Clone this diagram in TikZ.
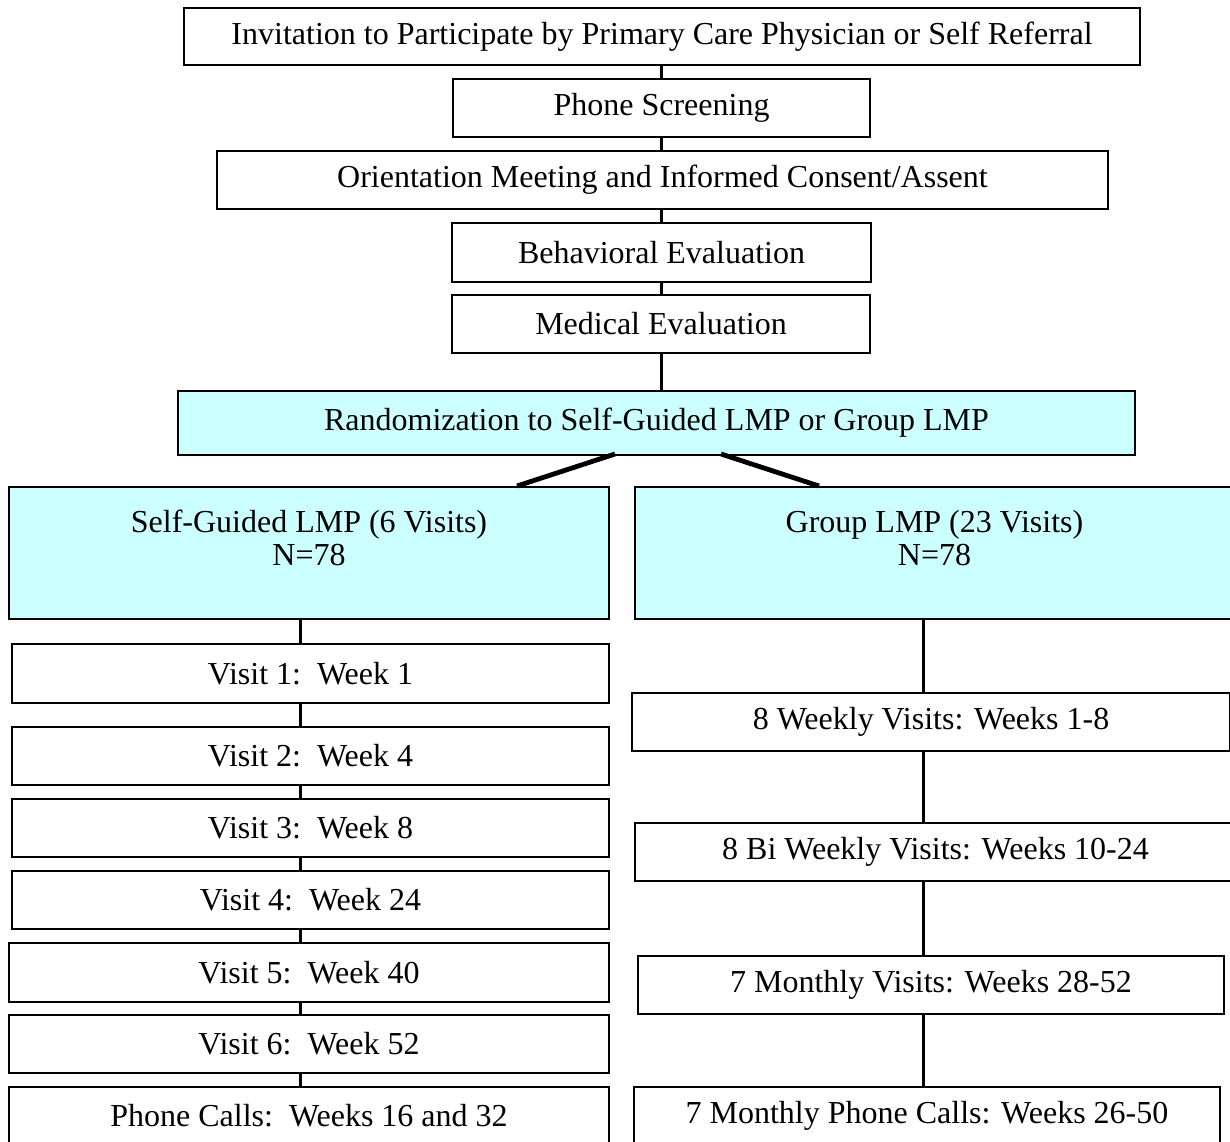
\documentclass[tikz,border=0pt]{standalone}
\usepackage{fontspec}
\setmainfont{Liberation Serif}
\usetikzlibrary{calc}
\definecolor{lcyan}{HTML}{CCFFFF}
\begin{document}
\begin{tikzpicture}[x=0.5pt,y=-0.5pt,
  txt/.style={font=\fontsize{16}{16.5}\selectfont},
  box/.style={draw=black, line width=1pt, rectangle, inner sep=0pt, anchor=north west, fill=white, txt},
  cbox/.style={box, fill=lcyan},
  conn/.style={line width=1.5pt},
  diag/.style={line width=2.4pt}]
\useasboundingbox (0,0) rectangle (1230,1141);
\clip (0,0) rectangle (1230,1141);
% top chain
\node[box, minimum width=478pt, minimum height=28.5pt] (inv) at (183,7) {Invitation to Participate by Primary Care Physician or Self Referral};
\node[box, minimum width=208.5pt, minimum height=29pt] (phone) at (452,78) {Phone Screening};
\node[box, minimum width=445.5pt, minimum height=29pt] (orient) at (216,150) {Orientation Meeting and Informed Consent/Assent};
\node[box, minimum width=209.5pt, minimum height=29.5pt] (behav) at (451,222) {Behavioral Evaluation};
\node[box, minimum width=209pt, minimum height=29pt] (med) at (451,294) {Medical Evaluation};
\node[cbox, minimum width=478.5pt, minimum height=32pt] (rand) at (177,390) {Randomization to Self-Guided LMP or Group LMP};
% arms
\node[cbox, minimum width=300pt, minimum height=66pt] (sg) at (8,486) {};
\node[align=center, txt] (sgt) at ($(sg.north)+(0,52)$) {Self-Guided LMP (6 Visits)\\N=78};
\node[cbox, minimum width=300.5pt, minimum height=66pt] (grp) at (634,486) {};
\node[align=center, txt] (grpt) at ($(grp.north)+(-1,52)$) {Group LMP (23 Visits)\\N=78};
% left column
\node[box, minimum width=298.5pt, minimum height=29.5pt] (v1) at (11,643) {Visit 1:\ \ Week 1};
\node[box, minimum width=298.5pt, minimum height=29pt] (v2) at (11,726) {Visit 2:\ \ Week 4};
\node[box, minimum width=298.5pt, minimum height=29pt] (v3) at (11,798) {Visit 3:\ \ Week 8};
\node[box, minimum width=298.5pt, minimum height=29pt] (v4) at (11,870) {Visit 4:\ \ Week 24};
\node[box, minimum width=300pt, minimum height=29.5pt] (v5) at (8,942) {Visit 5:\ \ Week 40};
\node[box, minimum width=300pt, minimum height=29pt] (v6) at (8,1014) {Visit 6:\ \ Week 52};
\node[box, minimum width=300pt, minimum height=29pt] (pc) at (8,1086) {Phone Calls:\ \ Weeks 16 and 32};
% right column
\node[box, minimum width=299pt, minimum height=29pt] (w8) at (631,692) {8 Weekly Visits: Weeks 1-8};
\node[box, minimum width=300.5pt, minimum height=29pt] (bi) at (634,822) {8 Bi Weekly Visits: Weeks 10-24};
\node[box, minimum width=293pt, minimum height=29pt] (mv) at (637,955) {7 Monthly Visits: Weeks 28-52};
\node[box, minimum width=293pt, minimum height=29pt] (mpc) at (633,1086) {7 Monthly Phone Calls: Weeks 26-50};
% connector coordinates
\coordinate (cx) at (661.5,0);
\coordinate (lx) at (300,0);
\coordinate (rx) at (923,0);
\coordinate (dl1) at (615,454);
\coordinate (dl2) at (517,486);
\coordinate (dr1) at (721,454);
\coordinate (dr2) at (819,486);
% connectors
\draw[conn] (inv.south -| cx) -- (phone.north -| cx);
\draw[conn] (phone.south -| cx) -- (orient.north -| cx);
\draw[conn] (orient.south -| cx) -- (behav.north -| cx);
\draw[conn] (behav.south -| cx) -- (med.north -| cx);
\draw[conn] (med.south -| cx) -- (rand.north -| cx);
\draw[diag] (dl1) -- (dl2);
\draw[diag] (dr1) -- (dr2);
\draw[conn] (sg.south -| lx) -- (v1.north -| lx);
\draw[conn] (v1.south -| lx) -- (v2.north -| lx);
\draw[conn] (v2.south -| lx) -- (v3.north -| lx);
\draw[conn] (v3.south -| lx) -- (v4.north -| lx);
\draw[conn] (v4.south -| lx) -- (v5.north -| lx);
\draw[conn] (v5.south -| lx) -- (v6.north -| lx);
\draw[conn] (v6.south -| lx) -- (pc.north -| lx);
\draw[conn] (grp.south -| rx) -- (w8.north -| rx);
\draw[conn] (w8.south -| rx) -- (bi.north -| rx);
\draw[conn] (bi.south -| rx) -- (mv.north -| rx);
\draw[conn] (mv.south -| rx) -- (mpc.north -| rx);
\end{tikzpicture}
\end{document}
